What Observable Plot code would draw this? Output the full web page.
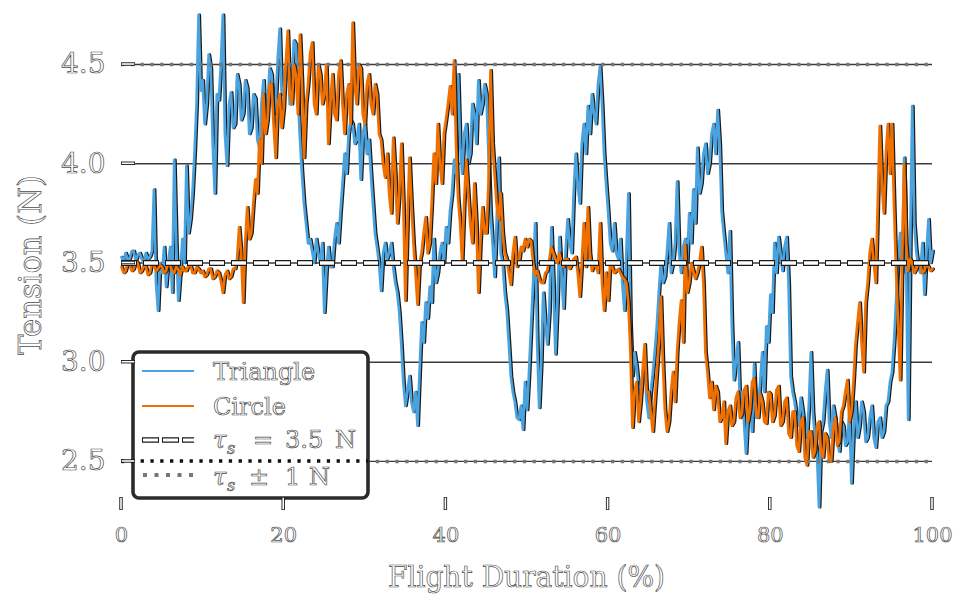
<!DOCTYPE html>
<html><head><meta charset="utf-8">
<script src="https://cdn.jsdelivr.net/npm/d3@7"></script>
<script src="https://cdn.jsdelivr.net/npm/@observablehq/plot@0.6"></script>
<style>
body{margin:0;background:#fff}
#chart svg text{fill:#fff;stroke:#4a4a4a;stroke-width:0.7px;opacity:0.99}
</style>
</head><body><div id="chart"></div>
<script>
// Flight duration sampled every 0.25 %
const step = 0.25;
const triangle = [
 3.53,3.50,3.55,3.52,3.52,3.56,3.56,3.51,3.54,3.55,3.52,3.50,3.55,3.52,3.53,3.56,3.87,3.40,3.26,3.50,
 3.45,3.58,3.38,3.50,3.58,3.35,4.02,3.60,3.31,3.45,3.62,3.50,3.99,3.65,3.72,3.85,4.05,4.30,4.75,4.37,
 4.42,4.20,4.30,4.55,4.48,4.10,3.85,4.35,4.32,4.50,4.75,4.15,3.99,4.30,4.36,4.18,4.20,4.45,4.40,4.22,
 4.25,4.42,4.38,4.15,4.18,4.35,4.33,4.12,4.08,4.30,4.42,4.20,4.28,4.48,4.45,4.25,4.30,4.52,4.68,4.35,
 4.35,4.50,4.55,4.30,4.40,4.62,4.60,4.35,4.13,3.95,3.80,3.70,3.60,3.62,3.56,3.50,3.62,3.55,3.50,3.60,
 3.25,3.45,3.58,3.48,3.48,3.62,3.70,3.60,3.76,3.90,4.05,3.95,4.15,4.22,4.20,4.10,4.12,4.20,3.92,4.15,
 4.20,4.05,4.12,3.95,3.80,3.65,3.58,3.50,3.36,3.55,3.60,3.52,3.55,3.60,3.48,3.40,3.35,3.25,3.09,2.90,
 2.78,2.85,2.93,2.80,2.75,2.85,2.68,2.95,3.20,3.10,3.30,3.22,3.38,3.30,3.62,3.40,3.45,3.55,3.60,3.50,
 3.68,3.60,3.76,3.85,4.02,3.95,4.45,4.10,3.95,4.15,4.20,4.00,4.05,4.30,4.25,4.10,4.42,4.25,4.30,4.40,
 4.35,4.05,3.75,3.60,3.43,3.70,4.03,3.55,3.50,3.35,3.26,3.10,2.93,2.85,2.80,2.72,2.71,2.78,2.66,2.90,
 2.76,2.95,3.18,3.40,3.70,3.10,2.77,3.00,3.35,3.20,3.09,3.25,3.68,3.40,3.04,3.30,3.63,3.45,3.27,3.55,
 3.72,3.60,3.55,3.85,4.05,3.90,3.80,4.10,4.20,4.05,4.29,4.15,4.35,4.25,4.20,4.40,4.49,4.30,4.05,3.90,
 3.76,3.60,3.56,3.70,3.55,3.52,3.62,3.40,3.26,3.55,3.85,3.20,2.93,3.05,2.98,2.88,2.84,2.95,3.00,2.80,
 2.72,2.85,2.94,3.05,3.18,3.35,3.50,3.40,3.43,3.55,3.70,3.45,3.50,3.60,3.91,3.55,3.45,3.58,3.62,3.50,
 3.75,3.60,3.87,3.70,4.08,3.85,3.90,4.05,4.10,3.95,4.00,4.15,4.20,4.05,4.27,4.10,3.76,3.65,3.55,3.45,
 3.66,3.20,2.91,3.00,3.10,2.80,2.85,2.70,2.54,2.75,2.80,2.65,2.99,2.72,2.78,2.90,3.05,2.85,3.18,3.10,
 3.34,3.25,3.60,3.45,3.63,3.55,3.46,3.58,3.63,3.40,2.93,2.85,2.80,2.72,2.68,2.82,2.75,2.65,2.62,2.78,
 3.05,2.75,2.62,2.55,2.27,2.65,2.70,2.85,2.96,2.70,2.62,2.78,2.72,2.60,2.55,2.70,2.68,2.58,2.60,2.75,
 2.39,2.65,2.80,2.62,2.68,2.80,2.75,2.60,2.62,2.72,2.78,2.62,2.57,2.70,2.72,2.62,2.65,2.78,2.80,2.90,
 2.95,3.10,3.30,3.50,3.65,3.45,4.03,3.50,2.71,3.60,4.29,3.70,3.56,3.48,3.45,3.60,3.34,3.55,3.72,3.50,
 3.56
];
const circle = [
 3.48,3.45,3.46,3.50,3.49,3.46,3.47,3.51,3.50,3.45,3.46,3.49,3.48,3.44,3.45,3.50,3.49,3.46,3.47,3.49,
 3.48,3.45,3.46,3.50,3.49,3.46,3.45,3.48,3.47,3.44,3.48,3.46,3.46,3.49,3.49,3.45,3.45,3.48,3.47,3.45,
 3.46,3.43,3.44,3.47,3.47,3.42,3.43,3.46,3.45,3.41,3.35,3.44,3.46,3.42,3.43,3.47,3.47,3.52,3.68,3.55,
 3.30,3.60,3.78,3.62,3.65,3.80,3.92,3.85,4.12,4.00,4.35,4.15,4.22,4.40,4.40,4.20,4.03,4.30,4.35,4.18,
 4.28,4.50,4.67,4.35,4.30,4.50,4.45,4.25,4.65,4.40,4.03,4.30,4.40,4.55,4.61,4.30,4.25,4.50,4.45,4.30,
 4.35,4.50,4.10,4.30,4.45,4.25,4.22,4.45,4.52,4.30,4.15,4.35,4.40,4.20,4.71,4.40,4.30,4.50,4.48,4.25,
 4.20,4.40,4.45,4.30,4.25,4.40,4.35,4.15,4.12,4.00,3.93,4.05,3.85,3.75,4.13,3.95,3.70,3.85,4.10,3.80,
 3.31,3.70,4.03,3.80,3.60,3.45,3.29,3.50,3.55,3.65,3.73,3.55,3.60,3.80,4.05,3.90,4.20,4.00,3.90,4.15,
 4.22,4.30,4.39,4.25,4.52,4.10,3.83,3.70,3.51,3.80,4.02,3.85,3.70,3.60,3.90,3.70,3.35,3.60,3.78,3.65,
 3.65,3.90,4.47,4.10,3.95,3.80,3.72,3.85,3.65,3.55,3.52,3.45,3.39,3.55,3.63,3.48,3.50,3.58,3.56,3.62,
 3.58,3.62,3.61,3.50,3.44,3.46,3.42,3.40,3.40,3.45,3.46,3.52,3.58,3.55,3.52,3.50,3.55,3.50,3.48,3.52,
 3.52,3.47,3.49,3.52,3.53,3.45,3.33,3.50,3.70,3.48,3.78,3.55,3.46,3.50,3.48,3.45,3.70,3.40,3.26,3.45,
 3.31,3.50,3.48,3.45,3.46,3.47,3.45,3.43,3.42,3.40,3.30,3.05,2.67,2.85,2.90,2.70,2.80,2.95,3.09,2.85,
 2.85,2.75,2.65,2.80,2.95,3.10,3.33,3.00,2.76,2.65,2.70,2.85,2.95,2.80,3.05,3.20,3.31,3.10,3.59,3.35,
 3.40,3.50,3.46,3.42,3.45,3.50,3.58,3.40,3.05,2.95,2.82,2.90,2.76,2.88,2.85,2.70,2.72,2.80,2.59,2.75,
 2.78,2.68,2.70,2.82,2.85,2.72,2.74,2.86,2.88,2.70,2.76,2.90,2.92,2.75,2.72,2.84,2.80,2.70,2.69,2.85,
 2.84,2.70,2.73,2.86,2.88,2.68,2.70,2.80,2.82,2.64,2.62,2.75,2.75,2.58,2.55,2.70,2.72,2.52,2.48,2.65,
 2.65,2.52,2.55,2.68,2.70,2.55,2.52,2.64,2.62,2.50,2.50,2.66,2.72,2.58,2.60,2.75,2.78,2.85,2.91,2.70,
 2.75,2.90,3.09,3.20,3.30,3.10,2.95,3.30,3.40,3.55,3.62,3.50,3.40,3.80,4.19,3.90,3.75,4.05,4.20,3.95,
 4.20,3.80,3.47,3.20,2.91,3.50,4.00,3.60,3.46,3.52,3.50,3.45,3.47,3.50,3.49,3.45,3.46,3.50,3.48,3.46,
 3.47
];
const xTicks = [0, 20, 40, 60, 80, 100];
const yTicks = [2.5, 3.0, 3.5, 4.0, 4.5];
const gridSolid = [3.0, 4.0, 2.5, 4.5, 3.5];
const reference = [3.5];
const bounds = [2.5, 4.5];
const yDomain = [2.253, 4.757];
const seriesNames = ["Triangle", "Circle"];
const colors = ["#4aa3df", "#ef7000"];

const triData = triangle.map((v, i) => ({x: i * step, y: v}));
const cirData = circle.map((v, i) => ({x: i * step, y: v}));

const plot = Plot.plot({
  width: 968, height: 609,
  marginLeft: 121, marginRight: 36, marginTop: 13, marginBottom: 99,
  style: {background: "#fff", fontFamily: "DejaVu Serif"},
  x: {domain: [0, 100]},
  y: {domain: yDomain},
  marks: [
    Plot.ruleY(gridSolid, {stroke: "#3c3c3c", strokeWidth: 1.3}),
    Plot.line(triData, {x: "x", y: "y", stroke: "#1a1a1a", strokeWidth: 2.7, dx: 1.2}),
    Plot.line(triData, {x: "x", y: "y", stroke: colors[0], strokeWidth: 2.7}),
    Plot.line(cirData, {x: "x", y: "y", stroke: "#1a1a1a", strokeWidth: 2.7, dx: 1.2}),
    Plot.line(cirData, {x: "x", y: "y", stroke: colors[1], strokeWidth: 2.7}),
    Plot.ruleY(reference, {stroke: "#1a1a1a", strokeWidth: 5.8, strokeDasharray: "16,6"}),
    Plot.ruleY(reference, {stroke: "#fff", strokeWidth: 3.4, strokeDasharray: "14,8", strokeDashoffset: -1}),
    Plot.ruleY(bounds, {stroke: "#777", strokeWidth: 3.5, strokeDasharray: "3.3,6.5"}),
    Plot.axisY(yTicks, {tickSize: 0, tickPadding: 16, fontSize: 28, tickFormat: d => d.toFixed(1), label: null}),
    Plot.axisX(xTicks, {tickSize: 0, tickPadding: 17, fontSize: 21, label: null})
  ]
});
document.getElementById("chart").appendChild(plot);

const svg = d3.select(plot);
const X = plot.scale("x"), Y = plot.scale("y");
const x0 = X.apply(0), yb = Y.apply(yDomain[0]);

// legend
const lg = svg.append("g");
lg.append("rect").attr("x", 133).attr("y", 352).attr("width", 235).attr("height", 146)
  .attr("rx", 6).attr("fill", "#fff").attr("stroke", "#2b2b2b").attr("stroke-width", 3.6);
lg.append("line").attr("x1", 142).attr("x2", 194).attr("y1", 371).attr("y2", 371).attr("stroke", colors[0]).attr("stroke-width", 2);
lg.append("line").attr("x1", 142).attr("x2", 194).attr("y1", 406).attr("y2", 406).attr("stroke", colors[1]).attr("stroke-width", 2);
lg.append("line").attr("x1", 142).attr("x2", 194).attr("y1", 440).attr("y2", 440).attr("stroke", "#1a1a1a").attr("stroke-width", 5.6).attr("stroke-dasharray", "17,3");
lg.append("line").attr("x1", 142).attr("x2", 194).attr("y1", 440).attr("y2", 440).attr("stroke", "#fff").attr("stroke-width", 3).attr("stroke-dasharray", "15,5").attr("stroke-dashoffset", -1);
lg.append("line").attr("x1", 143).attr("x2", 194).attr("y1", 475).attr("y2", 475).attr("stroke", "#777").attr("stroke-width", 4).attr("stroke-dasharray", "4,7.5");
// the 2.5 bound line runs across the legend in black
lg.append("line").attr("x1", x0).attr("x2", 368).attr("y1", Y.apply(2.5)).attr("y2", Y.apply(2.5))
  .attr("stroke", "#111").attr("stroke-width", 3.5).attr("stroke-dasharray", "3.3,6.5");

const lt = lg.append("g").attr("font-family", "DejaVu Serif").attr("font-size", 24).attr("text-anchor", "start");
lt.append("text").attr("x", 213).attr("y", 380).text(seriesNames[0]);
lt.append("text").attr("x", 213).attr("y", 415).text(seriesNames[1]);
function tauLine(y, parts) {
  const t = lt.append("text").attr("y", y);
  t.append("tspan").attr("x", 213).attr("font-style", "italic").text("τ");
  t.append("tspan").attr("x", 227).attr("dy", 6).attr("font-size", 16).attr("font-style", "italic").text("s");
  parts.forEach((p, i) => {
    const s = t.append("tspan").attr("x", p[0]).text(p[1]);
    if (i === 0) s.attr("dy", -6);
  });
}
tauLine(448, [[253, "="], [285, "3.5"], [335, "N"]]);
tauLine(485, [[249, "±"], [285, "1"], [309, "N"]]);

// inward ticks
const tk = svg.append("g");
xTicks.forEach(v => {
  const px = X.apply(v);
  tk.append("line").attr("x1", px).attr("x2", px).attr("y1", yb - 13).attr("y2", yb).attr("stroke", "#1a1a1a").attr("stroke-width", 3.4);
  tk.append("line").attr("x1", px).attr("x2", px).attr("y1", yb - 12.3).attr("y2", yb - 0.7).attr("stroke", "#fff").attr("stroke-width", 1.6);
});
yTicks.forEach(v => {
  const py = Y.apply(v);
  tk.append("line").attr("x1", x0).attr("x2", x0 + 14).attr("y1", py).attr("y2", py).attr("stroke", "#1a1a1a").attr("stroke-width", 3.4);
  tk.append("line").attr("x1", x0 + 0.7).attr("x2", x0 + 13.3).attr("y1", py).attr("y2", py).attr("stroke", "#fff").attr("stroke-width", 1.6);
});

// axis titles
svg.append("text").attr("x", (X.apply(0) + X.apply(100)) / 2).attr("y", 587)
  .attr("text-anchor", "middle").attr("font-family", "DejaVu Serif").attr("font-size", 30)
  .attr("textLength", 277).attr("lengthAdjust", "spacingAndGlyphs").text("Flight Duration (%)");
svg.append("text").attr("transform", "translate(41,265) rotate(-90)")
  .attr("text-anchor", "middle").attr("font-family", "DejaVu Serif").attr("font-size", 32)
  .attr("textLength", 180).attr("lengthAdjust", "spacingAndGlyphs").text("Tension (N)");
</script></body></html>
